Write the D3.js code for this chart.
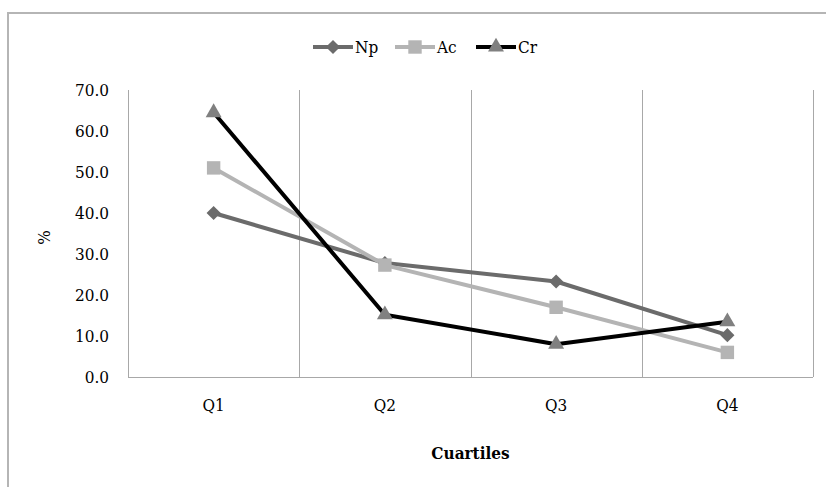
<!DOCTYPE html>
<html>
<head>
<meta charset="utf-8">
<script src="https://cdn.jsdelivr.net/npm/d3@7"></script>
<style>
  body { margin: 0; background: #fff; }
  text { font-family: "DejaVu Serif Condensed", "DejaVu Serif", serif; font-stretch: condensed; fill: #000; }
</style>
</head>
<body>
<div id="chart"></div>
<script>
// Data
var categories = ["Q1", "Q2", "Q3", "Q4"];
var npValues = [40.0, 27.8, 23.3, 10.2];
var acValues = [51.0, 27.3, 17.0, 6.0];
var crValues = [64.5, 15.2, 8.0, 13.5];
var yTicks = [0, 10, 20, 30, 40, 50, 60, 70];

var series = [
  { name: "Np", values: npValues, line: "#6b6b6b", marker: "#6b6b6b", shape: d3.symbolSquare, size: 100, rot: 45 },
  { name: "Ac", values: acValues, line: "#b4b4b4", marker: "#b4b4b4", shape: d3.symbolSquare, size: 180, rot: 0 },
  { name: "Cr", values: crValues, line: "#000000", marker: "#808080", shape: d3.symbolTriangle, size: 110, rot: 0 }
];

var width = 826, height = 487;
var margin = { top: 90, right: 13, bottom: 110, left: 128 };

var svg = d3.select("#chart").append("svg")
  .attr("width", width)
  .attr("height", height);

// outer chart border
svg.append("rect")
  .attr("x", 8).attr("y", 13)
  .attr("width", 840).attr("height", 500)
  .attr("fill", "none")
  .attr("stroke", "#b5b5b5")
  .attr("stroke-width", 2);

var x = d3.scaleBand()
  .domain(categories)
  .range([margin.left, width - margin.right]);

var y = d3.scaleLinear()
  .domain([0, 70])
  .range([height - margin.bottom, margin.top]);

var g = svg.append("g");

// vertical gridlines at band boundaries
var bounds = categories.map(function(c) { return x(c); }).concat([x.range()[1]]);
g.selectAll(".vgrid")
  .data(bounds)
  .enter().append("line")
  .attr("x1", function(d) { return Math.round(d) + 0.5; })
  .attr("x2", function(d) { return Math.round(d) + 0.5; })
  .attr("y1", y(70))
  .attr("y2", y(0))
  .attr("stroke", "#a8a8a8")
  .attr("stroke-width", 1);

// x axis baseline
g.append("line")
  .attr("x1", x.range()[0]).attr("x2", x.range()[1])
  .attr("y1", Math.round(y(0)) + 0.5).attr("y2", Math.round(y(0)) + 0.5)
  .attr("stroke", "#a8a8a8");

// y tick labels
g.selectAll(".ylab")
  .data(yTicks)
  .enter().append("text")
  .attr("x", 109)
  .attr("y", function(d) { return y(d); })
  .attr("dy", "0.35em")
  .attr("text-anchor", "end")
  .style("font-size", "17px")
  .text(function(d) { return d3.format(".1f")(d); });

// x tick labels
g.selectAll(".xlab")
  .data(categories)
  .enter().append("text")
  .attr("x", function(d) { return x(d) + x.bandwidth() / 2; })
  .attr("y", 411)
  .attr("text-anchor", "middle")
  .style("font-size", "17px")
  .text(function(d) { return d; });

// axis titles
svg.append("text")
  .attr("x", x.range()[0] + (x.range()[1] - x.range()[0]) / 2)
  .attr("y", 459)
  .attr("text-anchor", "middle")
  .style("font-size", "17px")
  .style("font-weight", "bold")
  .text("Cuartiles");

svg.append("text")
  .attr("transform", "translate(44," + y(34) + ") rotate(-90)")
  .attr("text-anchor", "middle")
  .attr("dy", "0.35em")
  .style("font-size", "17px")
  .text("%");

var line = d3.line()
  .x(function(d, i) { return x(categories[i]) + x.bandwidth() / 2; })
  .y(function(d) { return y(d); });

series.forEach(function(s) {
  g.append("path")
    .datum(s.values)
    .attr("d", line)
    .attr("fill", "none")
    .attr("stroke", s.line)
    .attr("stroke-width", 4)
    .attr("stroke-linejoin", "round");
});

series.forEach(function(s) {
  g.selectAll(null)
    .data(s.values)
    .enter().append("path")
    .attr("d", d3.symbol().type(s.shape).size(s.size))
    .attr("transform", function(d, i) {
      return "translate(" + (x(categories[i]) + x.bandwidth() / 2) + "," + y(d) + ") rotate(" + s.rot + ")";
    })
    .attr("fill", s.marker);
});

// legend
var legendX = [313, 395, 476];
var legend = svg.selectAll(".legend")
  .data(series)
  .enter().append("g")
  .attr("transform", function(d, i) { return "translate(" + legendX[i] + ",47)"; });

legend.append("line")
  .attr("x1", 0).attr("x2", 40)
  .attr("stroke", function(d) { return d.line; })
  .attr("stroke-width", 4);

legend.append("path")
  .attr("d", function(d) { return d3.symbol().type(d.shape).size(d.size)(); })
  .attr("transform", function(d) { return "translate(20,0) rotate(" + d.rot + ")"; })
  .attr("fill", function(d) { return d.marker; });

legend.append("text")
  .attr("x", 42)
  .attr("dy", "0.35em")
  .style("font-size", "17px")
  .text(function(d) { return d.name; });
</script>
</body>
</html>
